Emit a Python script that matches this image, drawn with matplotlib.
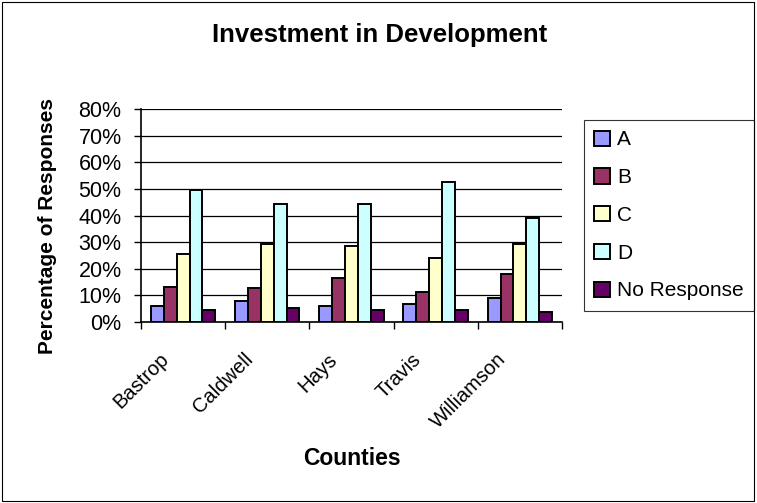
import matplotlib.pyplot as plt
import matplotlib.patches as patches
import matplotlib.transforms as mtransforms
import numpy as np

plt.rcParams['font.family'] = ['Liberation Sans', 'DejaVu Sans']

counties = ['Bastrop', 'Caldwell', 'Hays', 'Travis', 'Williamson']
series_names = ['A', 'B', 'C', 'D', 'No Response']
a_vals = [6, 8, 6, 6.7, 9]
b_vals = [13.3, 12.6, 16.5, 11.3, 18]
c_vals = [25.5, 29.3, 28.6, 24, 29.4]
d_vals = [49.6, 44.4, 44.4, 52.7, 39.2]
nr_vals = [4.4, 5.2, 4.4, 4.4, 3.8]
colors = ['#9999FF', '#993366', '#FFFFCC', '#CCFFFF', '#660066']

fig = plt.figure(figsize=(7.57, 5.03), dpi=100)
ax = fig.add_axes([0.1863, 0.3598, 0.556, 0.4235])

# Outer chart frame
fig.patches.append(patches.Rectangle((0.002, 0.004), 0.994, 0.992, transform=fig.transFigure,
                                     fill=False, edgecolor='black', linewidth=0.8))

x = np.arange(len(counties))
bar_w = 0.153
all_vals = [a_vals, b_vals, c_vals, d_vals, nr_vals]
for i, vals in enumerate(all_vals):
    ax.bar(x + (i - 2) * bar_w, vals, width=bar_w, color=colors[i],
           edgecolor='black', linewidth=1.4, label=series_names[i], zorder=3)

ax.set_xlim(-0.5, len(counties) - 0.5)
ax.set_ylim(0, 80)
ax.set_yticks(range(0, 81, 10))
ax.set_yticklabels([f'{v}%' for v in range(0, 81, 10)], fontsize=15.5)
ax.yaxis.grid(True, color='black', linewidth=0.9, zorder=0)
ax.set_axisbelow(True)

ax.set_xticks(x)
ax.set_xticklabels(counties, rotation=45, ha='right', va='top',
                   rotation_mode='anchor', fontsize=14.5)
ax.set_xticks(np.arange(-0.5, len(counties)), minor=True)
ax.tick_params(axis='x', which='major', length=0, pad=20)
ax.tick_params(axis='x', which='minor', length=5, width=1)
ax.tick_params(axis='y', length=5, width=1, pad=9)

# shift rotated labels left (after tick_params, which resets transforms)
shift = mtransforms.ScaledTranslation(-24 / 100, 0, fig.dpi_scale_trans)
for lbl in ax.get_xticklabels():
    lbl.set_transform(lbl.get_transform() + shift)

for side in ['top', 'right']:
    ax.spines[side].set_visible(False)
ax.spines['left'].set_linewidth(1.2)
ax.spines['bottom'].set_linewidth(1.2)

ax.set_ylabel('Percentage of Responses', fontsize=15, fontweight='bold')
ax.yaxis.set_label_coords(-0.2, 0.45)
ax.set_xlabel('Counties', fontsize=16.5, fontweight='bold')
ax.xaxis.set_label_coords(0.501, -0.585)
fig.text(0.502, 0.93, 'Investment in Development', ha='center', va='center',
         fontsize=18.5, fontweight='bold')

leg = ax.legend(loc='upper left', bbox_to_anchor=(1.052, 0.948), fontsize=15,
                frameon=True, fancybox=False, edgecolor='black',
                handlelength=0.75, handleheight=0.75, handletextpad=0.35,
                labelspacing=0.9, borderpad=0.5, borderaxespad=0)
leg.get_frame().set_linewidth(0.8)

fig.savefig('out.png', dpi=100)
plt.close()
